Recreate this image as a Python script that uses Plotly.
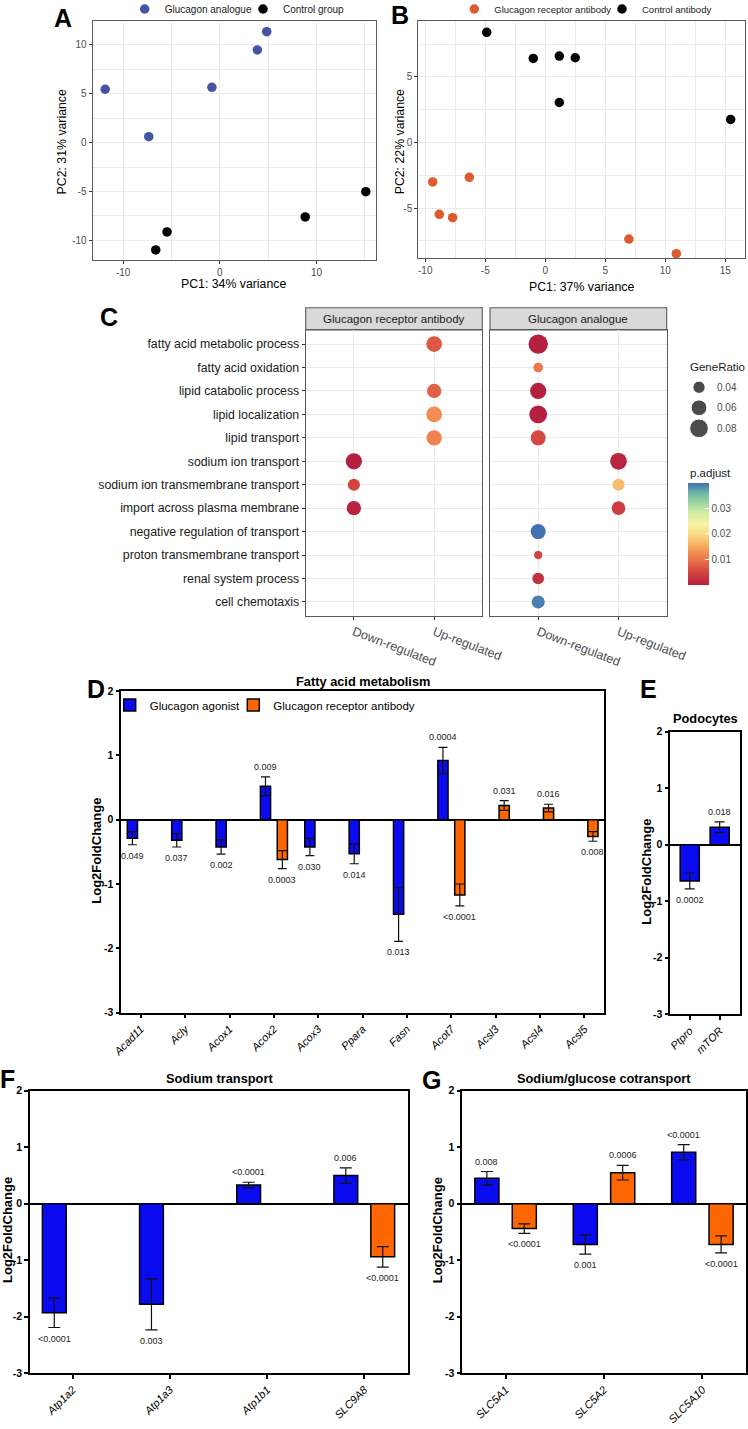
import numpy as np
import plotly.graph_objects as go

W, H = 748, 1429
FONT = "Liberation Sans, Arial, Helvetica, sans-serif"


def fx(px):
    return px / W


def fy(py):
    return 1 - py / H


# ---------------- Panel A : PCA (glucagon analogue) ----------------
a_analogue_pc1 = [-11.86, -7.35, -0.82, 3.88, 4.85]
a_analogue_pc2 = [5.46, 0.61, 5.66, 9.48, 11.35]
a_control_pc1 = [-5.46, -6.63, 8.83, 15.10]
a_control_pc2 = [-9.13, -10.97, -7.60, -5.01]

# ---------------- Panel B : PCA (receptor antibody) ----------------
b_antibody_pc1 = [-9.38, -8.83, -7.72, -6.33, 6.97, 10.92]
b_antibody_pc2 = [-3.00, -5.47, -5.73, -2.65, -7.36, -8.47]
b_control_pc1 = [-4.88, -1.00, 1.17, 2.50, 1.17, 15.45]
b_control_pc2 = [8.40, 6.41, 6.59, 6.46, 3.05, 1.76]

# ---------------- Panel C : GO dot plot ----------------
go_terms = ["fatty acid metabolic process", "fatty acid oxidation", "lipid catabolic process",
            "lipid localization", "lipid transport", "sodium ion transport",
            "sodium ion transmembrane transport", "import across plasma membrane",
            "negative regulation of transport", "proton transmembrane transport",
            "renal system process", "cell chemotaxis"]
directions = ["Down-regulated", "Up-regulated"]

gra_terms = ["fatty acid metabolic process", "lipid catabolic process", "lipid localization",
             "lipid transport", "sodium ion transport", "sodium ion transmembrane transport",
             "import across plasma membrane"]
gra_direction = ["Up-regulated", "Up-regulated", "Up-regulated", "Up-regulated",
                 "Down-regulated", "Down-regulated", "Down-regulated"]
gra_generatio = [0.059, 0.051, 0.059, 0.057, 0.063, 0.039, 0.051]
gra_padjust = [0.0070, 0.0080, 0.0125, 0.0115, 0.0002, 0.0050, 0.0006]

ga_terms = list(go_terms)
ga_direction = ["Down-regulated"] * 5 + ["Up-regulated"] * 3 + ["Down-regulated"] * 4
ga_generatio = [0.085, 0.0285, 0.063, 0.073, 0.055, 0.066, 0.039, 0.047, 0.055, 0.023, 0.037, 0.044]
ga_padjust = [0.0001, 0.0104, 0.0003, 0.0002, 0.0055, 0.0008, 0.0170, 0.0040, 0.0398, 0.0050, 0.0025, 0.0390]

generatio_breaks = [0.04, 0.06, 0.08]
padjust_breaks = [0.01, 0.02, 0.03]

# ---------------- Panel D : fatty acid metabolism ----------------
d_genes = ["Acad11", "Acly", "Acox1", "Acox2", "Acox3", "Ppara", "Fasn", "Acot7", "Acsl3", "Acsl4", "Acsl5"]
d_agonist = [-0.29, -0.32, -0.425, 0.52, -0.425, -0.53, -1.47, 0.92, None, None, None]
d_agonist_err = [0.10, 0.105, 0.11, 0.145, 0.135, 0.155, 0.42, 0.205, None, None, None]
d_agonist_p = ["0.049", "0.037", "0.002", "0.009", "0.030", "0.014", "0.013", "0.0004", None, None, None]
d_antibody = [None, None, None, -0.62, None, None, None, -1.17, 0.22, 0.18, -0.26]
d_antibody_err = [None, None, None, 0.14, None, None, None, 0.17, 0.075, 0.06, 0.075]
d_antibody_p = [None, None, None, "0.0003", None, None, None, "<0.0001", "0.031", "0.016", "0.008"]

# ---------------- Panel E : podocytes ----------------
e_genes = ["Ptpro", "mTOR"]
e_agonist = [-0.64, 0.31]
e_agonist_err = [0.14, 0.095]
e_agonist_p = ["0.0002", "0.018"]

# ---------------- Panel F : sodium transport ----------------
f_genes = ["Atp1a2", "Atp1a3", "Atp1b1", "SLC9A8"]
f_agonist = [-1.93, -1.78, 0.33, 0.50]
f_agonist_err = [0.26, 0.45, 0.05, 0.135]
f_agonist_p = ["<0.0001", "0.003", "<0.0001", "0.006"]
f_antibody = [None, None, None, -0.94]
f_antibody_err = [None, None, None, 0.18]
f_antibody_p = [None, None, None, "<0.0001"]

# ---------------- Panel G : sodium/glucose cotransport ----------------
g_genes = ["SLC5A1", "SLC5A2", "SLC5A10"]
g_agonist = [0.45, -0.72, 0.91]
g_agonist_err = [0.12, 0.17, 0.135]
g_agonist_p = ["0.008", "0.001", "<0.0001"]
g_antibody = [-0.44, 0.55, -0.72]
g_antibody_err = [0.085, 0.13, 0.15]
g_antibody_p = ["<0.0001", "0.0006", "<0.0001"]

fc_ticks = [-3, -2, -1, 0, 1, 2]

# ---------------- styling constants ----------------
PCA_BLUE = "#4355A3"
PCA_ORANGE = "#DD5B2C"
BAR_BLUE = "#0B0BF2"
BAR_ORANGE = "#FF6600"
GRID = "#EBEBEB"
BORDER = "#5A5A5A"
PADJ_SCALE = [[0.0, "#B51F40"], [0.12, "#D2423F"], [0.25, "#EC7449"], [0.38, "#F6A95E"],
              [0.5, "#FADB87"], [0.6, "#F6F4A6"], [0.7, "#D5EDA0"], [0.8, "#A3D7A2"],
              [0.9, "#6DB8A6"], [1.0, "#4471B2"]]


def ratio_to_size(r):
    return 70.4 * np.sqrt(np.asarray(r, dtype=float) - 0.0095)


def tick_text(vals):
    return [("%g" % v) for v in vals]


fig = go.Figure()
annotations = []
shapes = []

# ---------------- A ----------------
fig.add_trace(go.Scatter(x=a_analogue_pc1, y=a_analogue_pc2, mode="markers", name="Glucagon analogue",
                         marker=dict(color=PCA_BLUE, size=9.5), xaxis="x", yaxis="y", legend="legend"))
fig.add_trace(go.Scatter(x=a_control_pc1, y=a_control_pc2, mode="markers", name="Control group",
                         marker=dict(color="black", size=9.5), xaxis="x", yaxis="y", legend="legend2"))
# ---------------- B ----------------
fig.add_trace(go.Scatter(x=b_antibody_pc1, y=b_antibody_pc2, mode="markers", name="Glucagon receptor antibody",
                         marker=dict(color=PCA_ORANGE, size=9.5), xaxis="x2", yaxis="y2", legend="legend3"))
fig.add_trace(go.Scatter(x=b_control_pc1, y=b_control_pc2, mode="markers", name="Control antibody",
                         marker=dict(color="black", size=9.5), xaxis="x2", yaxis="y2", legend="legend4"))

# ---------------- C ----------------
all_p = gra_padjust + ga_padjust
cmin, cmax = min(all_p), max(all_p)
fig.add_trace(go.Scatter(x=gra_direction, y=gra_terms, mode="markers", showlegend=False,
                         marker=dict(size=ratio_to_size(gra_generatio), color=gra_padjust, colorscale=PADJ_SCALE,
                                     cmin=cmin, cmax=cmax, showscale=False, line=dict(width=0), opacity=1),
                         xaxis="x3", yaxis="y3"))
fig.add_trace(go.Scatter(x=ga_direction, y=ga_terms, mode="markers", showlegend=False,
                         marker=dict(size=ratio_to_size(ga_generatio), color=ga_padjust, colorscale=PADJ_SCALE,
                                     cmin=cmin, cmax=cmax, showscale=True, line=dict(width=0), opacity=1,
                                     colorbar=dict(x=fx(688.3), xanchor="left", y=fy(585), yanchor="bottom",
                                                   len=101.7, lenmode="pixels", thickness=20.7,
                                                   thicknessmode="pixels", xpad=0, ypad=0, outlinewidth=0,
                                                   tickmode="array", tickvals=padjust_breaks,
                                                   ticktext=["%.2f" % v for v in padjust_breaks],
                                                   ticks="inside", ticklen=4, tickcolor="white", tickwidth=1,
                                                   tickfont=dict(family=FONT, size=10, color="#4D4D4D"),
                                                   title=dict(text=""))),
                         xaxis="x4", yaxis="y4"))
# GeneRatio size key
fig.add_trace(go.Scatter(x=[0] * len(generatio_breaks), y=generatio_breaks, mode="markers", showlegend=False,
                         marker=dict(size=ratio_to_size(generatio_breaks), color="black"),
                         hoverinfo="skip", xaxis="x5", yaxis="y5"))
for v in generatio_breaks:
    annotations.append(dict(x=fx(714.7), xref="paper", xanchor="left", y=v, yref="y5", yanchor="middle",
                            text="%.2f" % v, showarrow=False, font=dict(family=FONT, size=10, color="#4D4D4D")))


# ---------------- bar panels ----------------
def add_bars(n, genes, vals, errs, pvals, color, name, width, shift, cap, legend_id=None):
    fig.add_trace(go.Bar(x=genes, y=vals, width=width, offset=shift - width / 2, name=name,
                         marker=dict(color=color, line=dict(color="black", width=1.5)),
                         error_y=dict(type="data", array=errs, visible=True, color="#111111",
                                      thickness=1.2, width=cap),
                         xaxis="x%d" % n, yaxis="y%d" % n, showlegend=legend_id is not None,
                         legend=legend_id or "legend"))
    for i, (v, e, t) in enumerate(zip(vals, errs, pvals)):
        if v is None:
            continue
        end = v + e if v >= 0 else v - e
        annotations.append(dict(x=i + shift, xref="x%d" % n, y=end, yref="y%d" % n,
                                yanchor="bottom" if v >= 0 else "top", yshift=3 if v >= 0 else -4,
                                text=t, showarrow=False, font=dict(family=FONT, size=9, color="#222222")))


add_bars(6, d_genes, d_agonist, d_agonist_err, d_agonist_p, BAR_BLUE, "Glucagon agonist", 0.23, -0.19, 4.5, "legend5")
add_bars(6, d_genes, d_antibody, d_antibody_err, d_antibody_p, BAR_ORANGE, "Glucagon receptor antibody", 0.23, 0.19, 4.5, "legend6")
add_bars(7, e_genes, e_agonist, e_agonist_err, e_agonist_p, BAR_BLUE, "Glucagon agonist", 0.64, 0.0, 5)
add_bars(8, f_genes, f_agonist, f_agonist_err, f_agonist_p, BAR_BLUE, "Glucagon agonist", 0.245, -0.19, 6)
add_bars(8, f_genes, f_antibody, f_antibody_err, f_antibody_p, BAR_ORANGE, "Glucagon receptor antibody", 0.245, 0.19, 6)
add_bars(9, g_genes, g_agonist, g_agonist_err, g_agonist_p, BAR_BLUE, "Glucagon agonist", 0.245, -0.19, 6)
add_bars(9, g_genes, g_antibody, g_antibody_err, g_antibody_p, BAR_ORANGE, "Glucagon receptor antibody", 0.245, 0.19, 6)


# ---------------- axes ----------------
def pca_axis(domain, rng, major, minor, anchor):
    return dict(domain=domain, range=rng, tickmode="array", tickvals=major, ticktext=tick_text(major),
                showgrid=True, gridcolor=GRID, gridwidth=1,
                minor=dict(tickvals=minor, showgrid=True, gridcolor=GRID, gridwidth=0.6, ticks=""),
                showline=True, mirror=True, linecolor=BORDER, linewidth=1.1, ticks="outside", ticklen=3,
                tickcolor="#333333", tickfont=dict(family=FONT, size=10, color="#4D4D4D"),
                zeroline=False, anchor=anchor)


def dot_xaxis(domain, anchor):
    return dict(domain=domain, type="category", categoryorder="array", categoryarray=directions,
                range=[-0.6, 1.6], tickangle=21, showgrid=True, gridcolor=GRID, gridwidth=1,
                showline=True, mirror=True, linecolor=BORDER, linewidth=1.1, ticks="outside", ticklen=3,
                tickcolor="#333333", tickfont=dict(family=FONT, size=12.5, color="#4D4D4D"),
                zeroline=False, anchor=anchor)


def dot_yaxis(domain, anchor, labels):
    return dict(domain=domain, type="category", categoryorder="array", categoryarray=go_terms,
                range=[11.6, -0.6], showgrid=True, gridcolor=GRID, gridwidth=1, showticklabels=labels,
                showline=True, mirror=True, linecolor=BORDER, linewidth=1.1,
                ticks="outside" if labels else "", ticklen=3, tickcolor="#333333",
                tickfont=dict(family=FONT, size=12.3, color="#1A1A1A"), zeroline=False, anchor=anchor)


def bar_xaxis(domain, cats, rng, anchor):
    return dict(domain=domain, type="category", categoryorder="array", categoryarray=cats, range=rng,
                tickangle=-45, ticks="outside", ticklen=4, tickwidth=1.5, tickcolor="black",
                tickfont=dict(family=FONT, size=11, color="black", style="italic"),
                showline=True, linecolor="black", linewidth=1.5, mirror=True, showgrid=False,
                zeroline=False, anchor=anchor)


def bar_yaxis(domain, anchor):
    return dict(domain=domain, range=[-3, 2], tickmode="array", tickvals=fc_ticks, ticktext=tick_text(fc_ticks),
                ticks="outside", ticklen=4, tickwidth=1.5, tickcolor="black",
                tickfont=dict(family=FONT, size=10.5, color="black", weight="bold"),
                showline=True, linecolor="black", linewidth=1.5, mirror=True, showgrid=False,
                zeroline=True, zerolinecolor="black", zerolinewidth=1.5, anchor=anchor)


def legend_box(left_px, center_py, size, color):
    return dict(orientation="h", x=fx(left_px), xanchor="left", y=fy(center_py), yanchor="middle",
                font=dict(family=FONT, size=size, color=color), bgcolor="rgba(0,0,0,0)")


layout = dict(
    width=W, height=H, margin=dict(l=0, r=0, t=0, b=0, autoexpand=False),
    paper_bgcolor="white", plot_bgcolor="white",
    font=dict(family=FONT, color="black"), barmode="overlay",
    xaxis=pca_axis([fx(92.7), fx(375.5)], [-13.15, 16.1], [-10, 0, 10], [-5, 5, 15], "y"),
    yaxis=pca_axis([fy(260), fy(21)], [-12.0, 12.44], [-10, -5, 0, 5, 10], [-7.5, -2.5, 2.5, 7.5], "x"),
    xaxis2=pca_axis([fx(418.3), fx(744.7)], [-10.58, 16.62], [-10, -5, 0, 5, 10, 15],
                    [-7.5, -2.5, 2.5, 7.5, 12.5], "y2"),
    yaxis2=pca_axis([fy(258), fy(21)], [-8.8, 9.26], [-5, 0, 5], [-7.5, -2.5, 2.5, 7.5], "x2"),
    xaxis3=dot_xaxis([fx(305.7), fx(482.3)], "y3"),
    yaxis3=dot_yaxis([fy(616), fy(330)], "x3", True),
    xaxis4=dot_xaxis([fx(490), fx(666.7)], "y4"),
    yaxis4=dot_yaxis([fy(616), fy(330)], "x4", False),
    xaxis5=dict(domain=[fx(689), fx(709)], range=[-0.5, 0.5], visible=False, anchor="y5"),
    yaxis5=dict(domain=[fy(438.6), fy(377)], range=[0.09, 0.03], visible=False, anchor="x5"),
    xaxis6=bar_xaxis([fx(121.3), fx(604)], d_genes, [-0.44, 10.44], "y6"),
    yaxis6=bar_yaxis([fy(1012.7), fy(691)], "x6"),
    xaxis7=bar_xaxis([fx(670.3), fx(739.7)], e_genes, [-0.65, 1.67], "y7"),
    yaxis7=bar_yaxis([fy(1014.3), fy(731.7)], "x7"),
    xaxis8=bar_xaxis([fx(30), fx(408)], f_genes, [-0.44, 3.45], "y8"),
    yaxis8=bar_yaxis([fy(1373.3), fy(1090.7)], "x8"),
    xaxis9=bar_xaxis([fx(462.3), fx(745.7)], g_genes, [-0.44, 2.44], "y9"),
    yaxis9=bar_yaxis([fy(1373.3), fy(1090.7)], "x9"),
    legend=legend_box(124.7, 9, 10, "#1A1A1A"),
    legend2=legend_box(243, 9, 10, "#1A1A1A"),
    legend3=legend_box(454.3, 9, 9.5, "#1A1A1A"),
    legend4=legend_box(602, 9, 9.5, "#1A1A1A"),
    legend5=legend_box(109.7, 705, 11.5, "black"),
    legend6=legend_box(233.3, 705, 11.5, "black"),
)


def text(x, y, s, size, bold=False, color="black", angle=0, xanchor="center"):
    annotations.append(dict(x=fx(x), y=fy(y), xref="paper", yref="paper", text=s, showarrow=False,
                            xanchor=xanchor, yanchor="middle", textangle=angle,
                            font=dict(family=FONT, size=size, color=color, weight="bold" if bold else "normal")))


# panel letters
for letter, x, y in [("A", 62.5, 17.5), ("B", 400, 15), ("C", 108.7, 317), ("D", 96, 689),
                     ("E", 648.7, 689), ("F", 7.5, 1079), ("G", 431.7, 1080)]:
    text(x, y, letter, 25, bold=True)

# PCA axis titles
text(233.8, 284, "PC1: 34% variance", 12.3)
text(61.7, 141.7, "PC2: 31% variance", 12.3, angle=-90)
text(581.5, 287.3, "PC1: 37% variance", 12.3)
text(400, 142.3, "PC2: 22% variance", 12.3, angle=-90)

# facet strips
for (x0, x1, lab) in [(305.7, 482.3, "Glucagon receptor antibody"), (490, 666.7, "Glucagon analogue")]:
    shapes.append(dict(type="rect", xref="paper", yref="paper", x0=fx(x0), x1=fx(x1), y0=fy(330), y1=fy(307.7),
                       fillcolor="#D9D9D9", line=dict(color=BORDER, width=1.1), layer="below"))
    text((x0 + x1) / 2, 319, lab, 11.5, color="#1A1A1A")

# dot-plot legend titles
text(688.3, 366.7, "GeneRatio", 11.5, color="#1A1A1A", xanchor="left")
text(688.3, 472.7, "p.adjust", 11.5, color="#1A1A1A", xanchor="left")

# bar chart titles and axis titles
text(362.6, 681.7, "Fatty acid metabolism", 12.8, bold=True)
text(705, 718.3, "Podocytes", 12.8, bold=True)
text(219, 1078.3, "Sodium transport", 12.8, bold=True)
text(604, 1078.3, "Sodium/glucose cotransport", 12.8, bold=True)
text(96.7, 851, "Log2FoldChange", 13, bold=True, angle=-90)
text(645.7, 872, "Log2FoldChange", 13, bold=True, angle=-90)
text(7, 1230, "Log2FoldChange", 13, bold=True, angle=-90)
text(437.3, 1230, "Log2FoldChange", 13, bold=True, angle=-90)

layout["annotations"] = annotations
layout["shapes"] = shapes
fig.update_layout(**layout)

fig.write_html("out.html")
